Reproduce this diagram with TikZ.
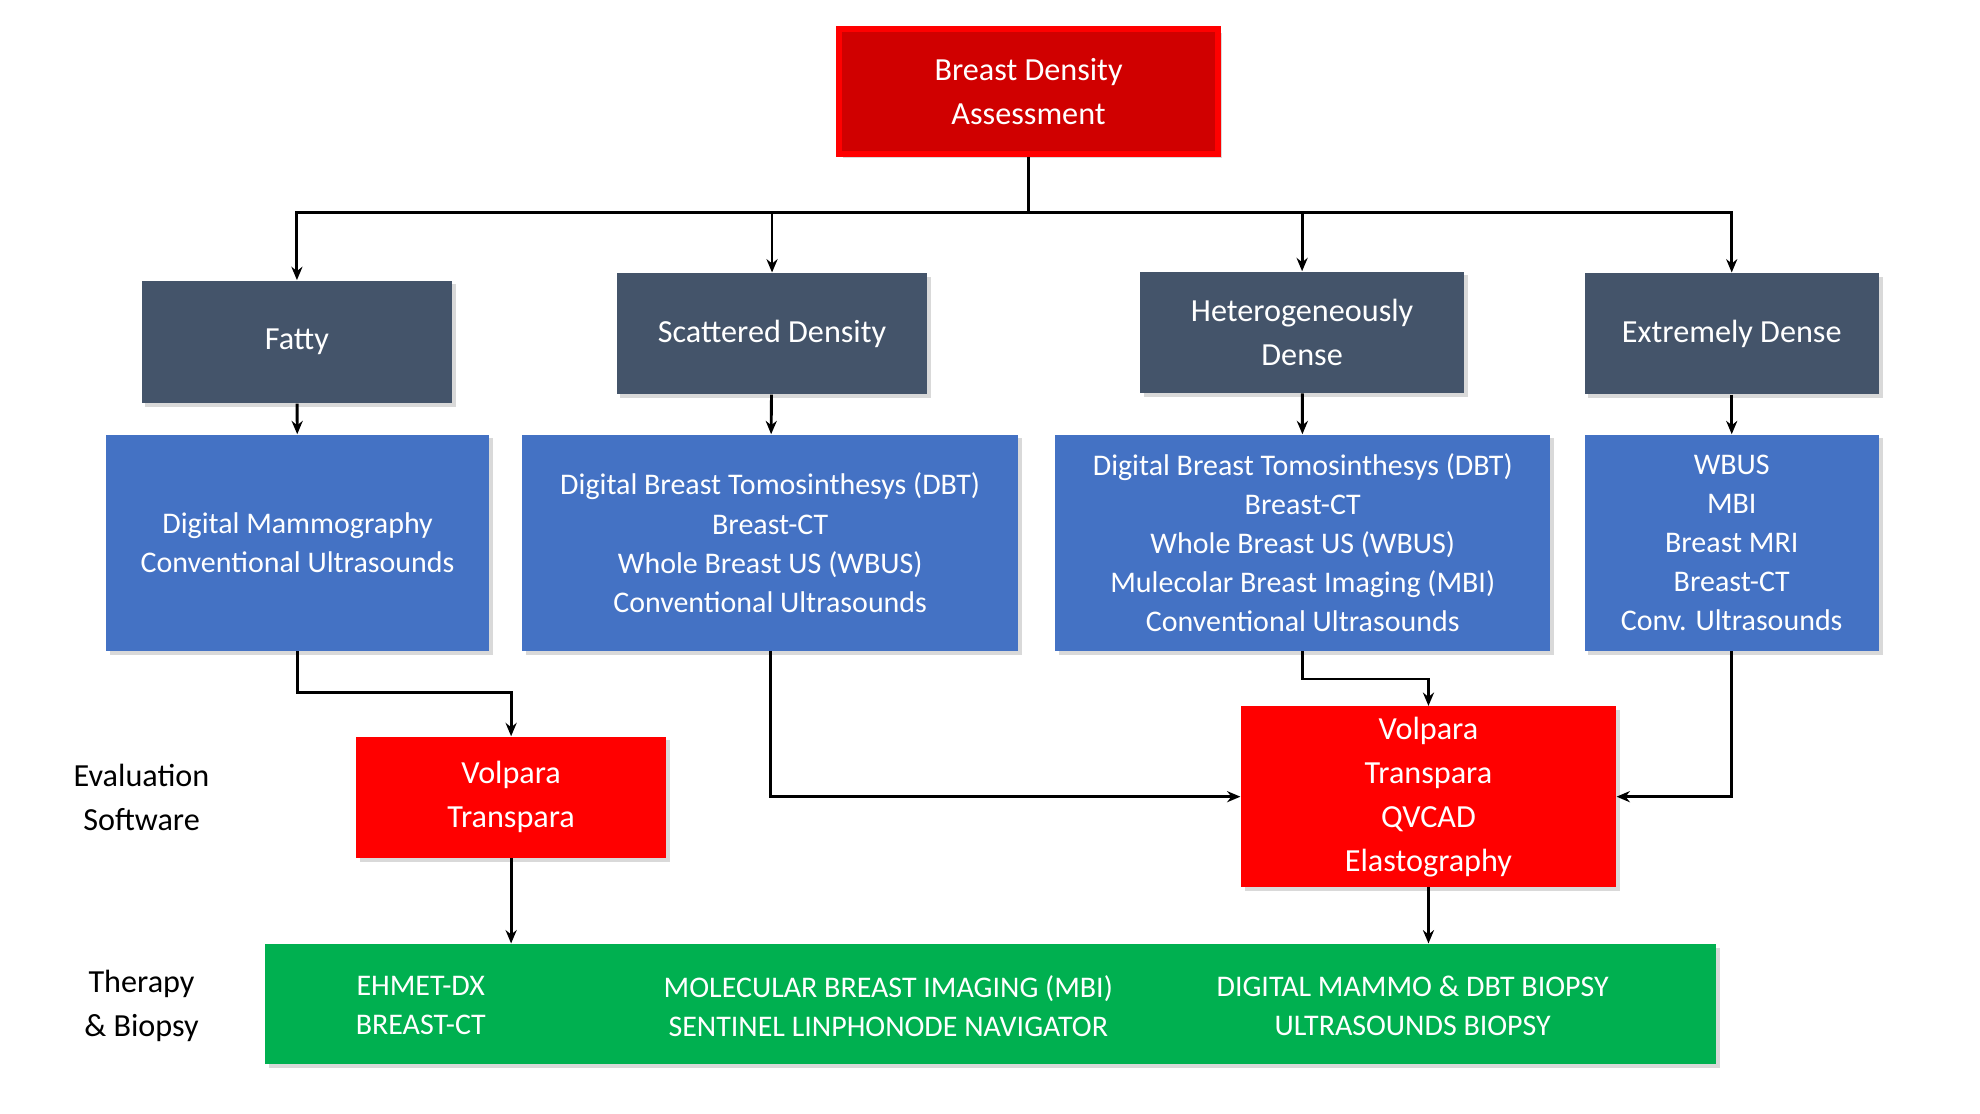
\documentclass[tikz,border=0pt]{standalone}
\usepackage{fontspec}
\setmainfont{Carlito}
\usetikzlibrary{shadows,arrows.meta}
\definecolor{slate}{HTML}{44546A}
\definecolor{bblue}{HTML}{4472C4}
\definecolor{gg}{HTML}{00B050}
\definecolor{dred}{HTML}{D00000}
\begin{document}
\begin{tikzpicture}[x=0.02cm,y=-0.02cm,
 box/.style={draw=none,text=white,align=center,inner sep=0pt,drop shadow={shadow xshift=0.06cm,shadow yshift=-0.06cm,opacity=0.3}},
 cat/.style={box,fill=slate,font=\fontsize{14.5}{19.8}\selectfont},
 tech/.style={box,fill=bblue,font=\fontsize{13.5}{17.6}\selectfont},
 soft/.style={box,fill=red,font=\fontsize{14.5}{19.8}\selectfont},
 lbl/.style={align=center,font=\fontsize{14.5}{19.8}\selectfont},
 arr/.style={-{Stealth[length=6pt,width=5pt]},line width=1.3pt},
 ln/.style={line width=1.3pt}]
\useasboundingbox (0,0) rectangle (1567,881.6);
\newcommand{\bx}[6]{\node[#1,minimum width={(#4-#2)*0.02cm},minimum height={(#5-#3)*0.02cm}] (#6) at ({(#2+#4)/2},{(#3+#5)/2})}
\bx{box,fill=dred,draw=red,line width=2.5pt,font=\fontsize{14.5}{19.8}\selectfont}{664}{23}{964}{122}{top} {Breast Density\\Assessment};
\bx{cat}{112}{222}{358}{319}{c1} {Fatty};
\bx{cat}{488}{216}{734}{312}{c2} {Scattered Density};
\bx{cat}{902}{215}{1159}{311}{c3} {Heterogeneously\\Dense};
\bx{cat}{1254}{216}{1487}{312}{c4} {Extremely Dense};
\bx{tech}{84}{344}{387}{515}{t1} {Digital Mammography\\Conventional Ultrasounds};
\bx{tech}{413}{344}{806}{515}{t2} {Digital Breast Tomosinthesys (DBT)\\Breast-CT\\Whole Breast US (WBUS)\\Conventional Ultrasounds};
\bx{tech}{835}{344}{1227}{515}{t3} {Digital Breast Tomosinthesys (DBT)\\Breast-CT\\Whole Breast US (WBUS)\\Mulecolar Breast Imaging (MBI)\\Conventional Ultrasounds};
\bx{tech}{1254}{344}{1487}{515}{t4} {WBUS\\MBI\\Breast MRI\\Breast-CT\\Conv. Ultrasounds};
\bx{soft}{282}{583}{527}{679}{s1} {Volpara\\Transpara};
\bx{soft}{982}{559}{1279}{702}{s2} {Volpara\\Transpara\\QVCAD\\Elastography};
\bx{box,fill=gg,font=\fontsize{13.5}{17.6}\selectfont}{210}{747}{1358}{842}{g} {};
\node[lbl,text=white,font=\fontsize{13.5}{17.6}\selectfont] (g1) at (333,796) {EHMET-DX\\BREAST-CT};
\node[lbl,text=white,font=\fontsize{13.5}{17.6}\selectfont] (g2) at (703,796) {MOLECULAR BREAST IMAGING (MBI)\\SENTINEL LINPHONODE NAVIGATOR};
\node[lbl,text=white,font=\fontsize{13.5}{17.6}\selectfont] (g3) at (1118,796) {DIGITAL MAMMO \& DBT BIOPSY\\ULTRASOUNDS BIOPSY};
\node[lbl] (l1) at (112,631) {Evaluation\\Software};
\node[lbl] (l2) at (112,796) {Therapy\\\& Biopsy};
\coordinate (bus) at (814,168);
\draw[ln] (top.south) -- (bus);
\draw[arr] (bus) -| (c1.north);
\draw[arr] (bus) -| (c2.north);
\draw[arr] (bus) -| (c3.north);
\draw[arr] (bus) -| (c4.north);
\draw[arr] (c1) -- (t1);
\draw[arr] (c2) -- (t2);
\draw[arr] (c3) -- (t3);
\draw[arr] (c4) -- (t4);
\draw[arr] (t1.south) -- ++(0,33) -| (s1.north);
\draw[arr] (t2.south) |- (s2.west);
\draw[arr] (t3.south) -- ++(0,22) -| (s2.north);
\draw[arr] (t4.south) |- (s2.east);
\draw[arr] (s1.south) -- (s1.south |- g.north);
\draw[arr] (s2.south) -- (s2.south |- g.north);
\end{tikzpicture}
\end{document}
